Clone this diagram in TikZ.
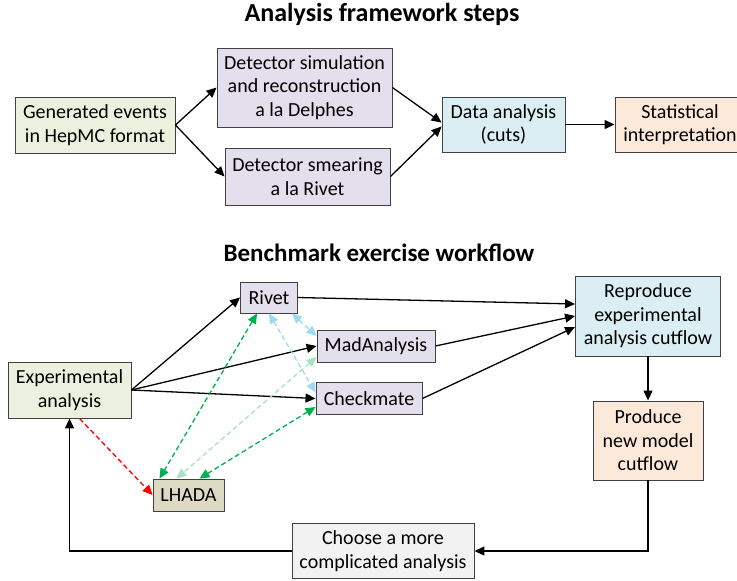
\documentclass[tikz,border=0pt]{standalone}
\usepackage{fontspec}
\setmainfont{Carlito}
\usetikzlibrary{arrows.meta}

\definecolor{boxgreen}{HTML}{EBF1DE}
\definecolor{boxlilac}{HTML}{E4DFEC}
\definecolor{boxblue}{HTML}{DAEEF3}
\definecolor{boxpeach}{HTML}{FDE9D9}
\definecolor{boxtan}{HTML}{DDD9C3}
\definecolor{boxgray}{HTML}{F2F2F2}
\definecolor{rimgray}{HTML}{404040}
\definecolor{linkgreen}{HTML}{00B050}
\definecolor{linkpale}{HTML}{A9E2C3}
\definecolor{linkblue}{HTML}{9DD9F3}

\tikzset{
  stepbox/.style={draw=rimgray, line width=0.9pt, align=center, inner sep=0pt,
    font=\fontsize{20}{23.5}\selectfont},
  headline/.style={anchor=base, font=\fontsize{26}{30}\selectfont\bfseries},
  flow/.style={->, line width=1.3pt},
  link/.style={<->, line width=1.3pt, dash pattern=on 5pt off 3pt},
}

\begin{document}
\begin{tikzpicture}[x=1pt, y=-1pt, >={Triangle[length=10pt,width=9pt]}]
  \useasboundingbox (0,0) rectangle (737,581);
  % analysis framework
  \node[headline] (toptitle) at (382,21) {Analysis framework steps};
  \node[stepbox, fill=boxgreen, minimum width=160pt, minimum height=56pt] (gen) at (95,125) {Generated events\\in HepMC format};
  \node[stepbox, fill=boxlilac, minimum width=175pt, minimum height=79pt] (delphes) at (304.5,87.5) {Detector simulation\\and reconstruction\\a la Delphes};
  \node[stepbox, fill=boxlilac, minimum width=165pt, minimum height=57pt] (smear) at (307.5,176.5) {Detector smearing\\a la Rivet};
  \node[stepbox, fill=boxblue, minimum width=123pt, minimum height=55pt] (data) at (503.5,124.5) {Data analysis\\(cuts)};
  \node[stepbox, fill=boxpeach, minimum width=130pt, minimum height=55pt] (stat) at (680,124.5) {Statistical\\interpretation};
  \draw[flow] (gen.east) -- (delphes.west);
  \draw[flow] (gen.east) -- (smear.west);
  \draw[flow] (delphes.east) -- ([yshift=2pt]data.west);
  \draw[flow] (smear.east) -- ([yshift=-2pt]data.west);
  \draw[flow] (data.east) -- (stat.west);

  % benchmark workflow
  \node[headline, font=\fontsize{25}{30}\selectfont\bfseries] (bottitle) at (379,261) {Benchmark exercise workflow};
  \node[stepbox, fill=boxlilac, minimum width=57pt, minimum height=31pt] (rivet) at (269,297.5) {Rivet};
  \node[stepbox, fill=boxlilac, minimum width=118pt, minimum height=32pt] (mad) at (376,346) {MadAnalysis};
  \node[stepbox, fill=boxlilac, minimum width=106pt, minimum height=32pt] (check) at (369,398.5) {Checkmate};
  \node[stepbox, fill=boxgreen, minimum width=123pt, minimum height=56pt] (exp) at (69.5,390) {Experimental\\analysis};
  \node[stepbox, fill=boxtan, minimum width=71pt, minimum height=32pt] (lhada) at (188.5,495) {LHADA};
  \node[stepbox, fill=boxblue, minimum width=145pt, minimum height=80pt] (repro) at (648,316) {Reproduce\\experimental\\analysis cutflow};
  \node[stepbox, fill=boxpeach, minimum width=110pt, minimum height=79pt] (produce) at (648,440.5) {Produce\\new model\\cutflow};
  \node[stepbox, fill=boxgray, minimum width=182pt, minimum height=55pt] (choose) at (383,551) {Choose a more\\complicated analysis};
  \draw[flow] (exp.east) -- (rivet.west);
  \draw[flow] (exp.east) -- (mad.west);
  \draw[flow] (exp.east) -- (check.west);
  \draw[flow] (rivet.east) -- ([yshift=12pt]repro.west);
  \draw[flow] (mad.east) -- (repro.west);
  \draw[flow] (check.east) -- ([yshift=-11pt]repro.west);
  \draw[flow] (repro.south) -- (produce.north);
  \draw[flow] (produce.south) |- (choose.east);
  \draw[flow] (choose.west) -| (exp.south);
  % dashed links to LHADA
  \draw[->, line width=1.3pt, dash pattern=on 5pt off 3pt, red] ([xshift=10pt]exp.south) -- (lhada.west);
  \draw[link, linkblue] (rivet.south) -- ([yshift=6pt]check.west);
  \draw[link, linkblue] ([xshift=23pt]rivet.south) -- ([yshift=10pt]mad.west);
  \draw[link, linkpale] ([yshift=-11pt]mad.west) -- ([xshift=-12pt]lhada.north);
  \draw[link, linkgreen] ([xshift=-12pt]rivet.south) -- ([xshift=-29pt]lhada.north);
  \draw[link, linkgreen] ([yshift=-8.5pt]check.west) -- ([xshift=11pt]lhada.north);
\end{tikzpicture}
\end{document}
